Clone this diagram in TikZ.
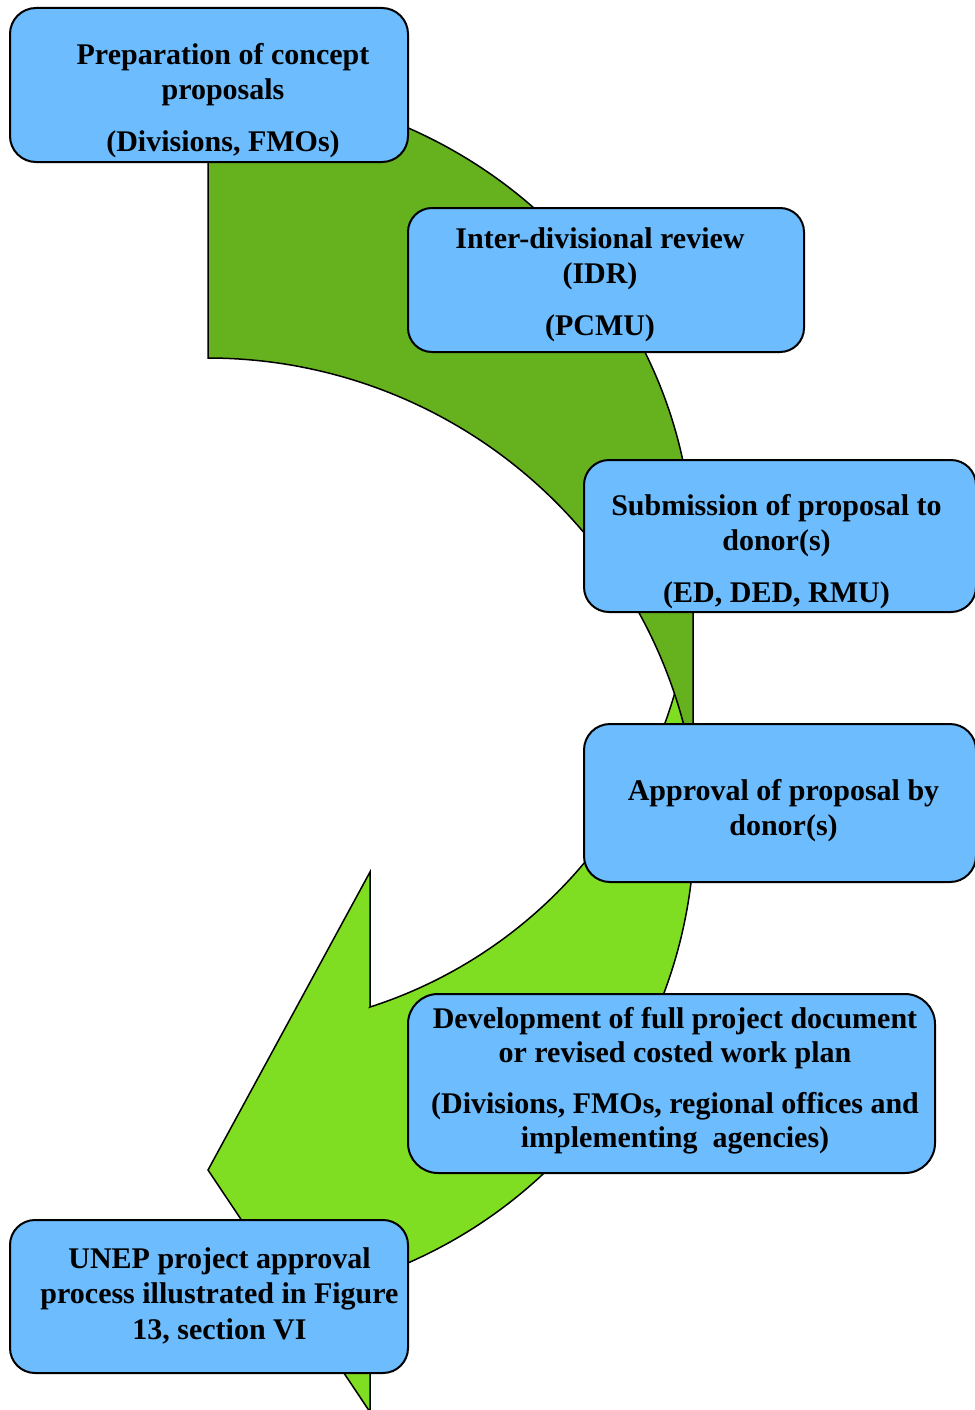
\documentclass[tikz,border=0pt]{standalone}
\usepackage{fontspec}
\setmainfont{Liberation Serif}
\definecolor{boxblue}{HTML}{6CBCFE}
\definecolor{dkgreen}{HTML}{66B21E}
\definecolor{ltgreen}{HTML}{80DE22}
\tikzset{
  box/.style={rectangle, draw=black, line width=2pt, fill=boxblue, rounded corners=#1, inner sep=0pt},
  lbl/.style={font=\bfseries\fontsize{30}{34.5}\selectfont, align=center, inner sep=0pt, text=black},
  bandline/.style={draw=black, line width=1.5pt, line join=miter}
}
\begin{document}
\begin{tikzpicture}[x=1pt, y=-1pt]
\useasboundingbox (0,0) rectangle (974,1410);
% light green curved arrow (behind)
\path[fill=ltgreen, bandline] (370,1007) -- (370,872) -- (208,1170) -- (370,1412) -- (370,1277.7)
  -- plot[domain=71.27:-16.27, samples=90] ({216.5+478*cos(\x)},{825+478*sin(\x)})
  -- plot[domain=15.87:72.17, samples=90] ({227.4+465.7*cos(\x)},{563.7+465.7*sin(\x)})
  -- cycle;
% dark green curved band
\path[fill=dkgreen, bandline] (208,86)
  -- plot[domain=90:0, samples=90] ({208+485*cos(\x)},{556-470*sin(\x)})
  -- (693,767)
  -- plot[domain=9.72:90, samples=90] ({208+492*cos(\x)},{850-492*sin(\x)})
  -- cycle;
% boxes
\node[box=26pt, minimum width=398pt, minimum height=154pt] (b1) at (209,85) {};
\node[box=24pt, minimum width=396pt, minimum height=144pt] (b2) at (606,280) {};
\node[box=25pt, minimum width=392pt, minimum height=152pt] (b3) at (780,536) {};
\node[box=26pt, minimum width=392pt, minimum height=158pt] (b4) at (780,803) {};
\node[box=30pt, minimum width=527pt, minimum height=179pt] (b5) at (671.5,1083.5) {};
\node[box=25pt, minimum width=398pt, minimum height=153pt] (b6) at (209,1296.5) {};
% texts
\node[lbl] (t1) at (223,101) {Preparation of concept\\proposals\\[18pt](Divisions, FMOs)};
\node[lbl] (t2) at (600,285) {Inter-divisional review\\(IDR)\\[18pt](PCMU)};
\node[lbl] (t3) at (776.5,552) {Submission of proposal to\\donor(s)\\[18pt](ED, DED, RMU)};
\node[lbl] (t4) at (783.5,810.5) {Approval of proposal by\\donor(s)};
\node[lbl] (t5) at (675,1080.5) {Development of full project document\\or revised costed work plan\\[16pt](Divisions, FMOs, regional offices and\\implementing~ agencies)};
\node[lbl] (t6) at (219.5,1296) {UNEP project approval\\process illustrated in Figure\\[2pt]13, section VI};
\end{tikzpicture}
\end{document}
